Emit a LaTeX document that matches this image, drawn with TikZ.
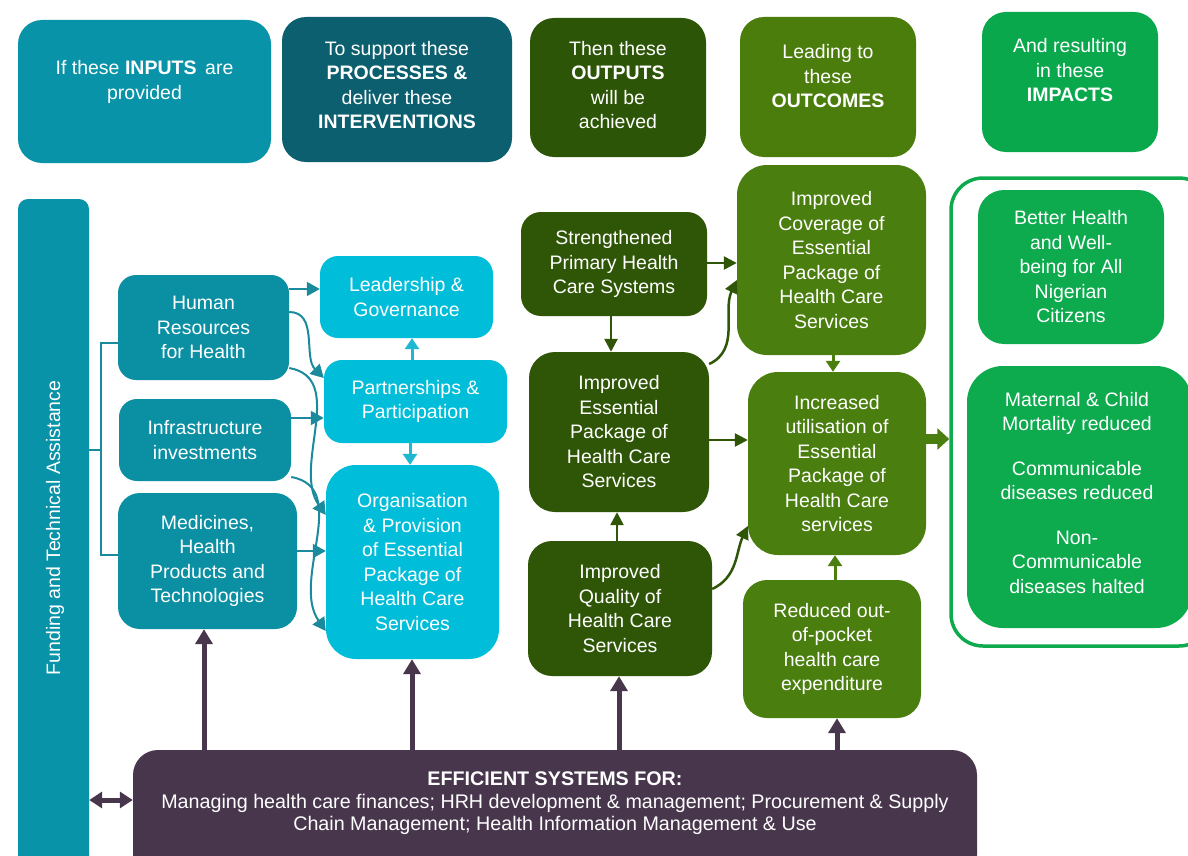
\documentclass[tikz,border=0pt]{standalone}
\usepackage{fontspec}
\setmainfont{Liberation Sans}
\usetikzlibrary{arrows.meta}
\definecolor{cHa}{HTML}{0893A8}
\definecolor{cHb}{HTML}{0B5F6E}
\definecolor{cHc}{HTML}{2D5507}
\definecolor{cHd}{HTML}{4B7D0C}
\definecolor{cHe}{HTML}{0AA84D}
\definecolor{cIn}{HTML}{0A8FA3}
\definecolor{cPr}{HTML}{00BDD9}
\definecolor{cOut}{HTML}{2F5607}
\definecolor{cOc}{HTML}{4A7E0E}
\definecolor{cImp}{HTML}{0DAA4E}
\definecolor{cSys}{HTML}{47364C}
\definecolor{cArT}{HTML}{1B8A9C}
\definecolor{cArC}{HTML}{1EB8D0}
\begin{document}
\begin{tikzpicture}[x=1pt,y=-1pt,
  font=\fontsize{19.5}{24.5}\selectfont,
  box/.style={rectangle, rounded corners=20pt, inner sep=0pt, align=center, text=white},
  txt/.style={inner sep=0pt, align=center, text=white},
  arrT/.style={-{Triangle[length=13pt,width=14pt]}, line width=2pt, draw=cArT},
  arrC/.style={-{Triangle[length=11pt,width=14pt]}, line width=3pt, draw=cArC},
  arrO/.style={-{Triangle[length=13pt,width=13pt]}, line width=2.5pt, draw=cOut},
  arrG/.style={-{Triangle[length=11pt,width=14pt]}, line width=3pt, draw=cOc},
  arrP/.style={-{Triangle[length=15pt,width=17pt]}, line width=5pt, draw=cSys},
  arrPP/.style={{Triangle[length=13pt,width=16pt]}-{Triangle[length=13pt,width=16pt]}, line width=5pt, draw=cSys},
  arrBig/.style={-{Triangle[length=12pt,width=21pt]}, line width=10pt, draw=cOc}
]
\useasboundingbox (0,0) rectangle (1188,856);
\fill[white] (0,0) rectangle (1188,856);

% ---------- header row ----------
\node[box, fill=cHa, rounded corners=24pt, minimum width=253pt, minimum height=143pt] (h1) at (144.5,91.5) {};
\node[txt] (h1t) at (144.5,82) {If these \textbf{INPUTS}\, are\\provided};
\node[box, fill=cHb, rounded corners=24pt, minimum width=230pt, minimum height=145pt] (h2) at (397,89.5) {};
\node[txt] (h2t) at (397,85) {To support these\\\textbf{PROCESSES \&}\\deliver these\\\textbf{INTERVENTIONS}};
\node[box, fill=cHc, rounded corners=24pt, minimum width=176pt, minimum height=139pt] (h3) at (618,87.5) {};
\node[txt] (h3t) at (618,85) {Then these\\\textbf{OUTPUTS}\\will be\\achieved};
\node[box, fill=cHd, rounded corners=24pt, minimum width=176pt, minimum height=140pt] (h4) at (828,87) {};
\node[txt] (h4t) at (828,76.5) {Leading to\\these\\\textbf{OUTCOMES}};
\node[box, fill=cHe, rounded corners=24pt, minimum width=176pt, minimum height=140pt] (h5) at (1070,82) {};
\node[txt] (h5t) at (1070,70.5) {And resulting\\in these\\\textbf{IMPACTS}};

% ---------- funding bar ----------
\node[box, fill=cHa, rounded corners=10pt, minimum width=71pt, minimum height=680pt] (fund) at (53.5,539) {};
\node[txt, rotate=90] (fundt) at (55,528) {Funding and Technical Assistance};

% ---------- inputs ----------
\node[box, fill=cIn, rounded corners=18pt, minimum width=171pt, minimum height=105pt] (hr) at (203.5,327.5) {Human\\Resources\\for Health};
\node[box, fill=cIn, rounded corners=18pt, minimum width=172pt, minimum height=82pt] (inf) at (205,440) {Infrastructure\\investments};
\node[box, fill=cIn, rounded corners=22pt, minimum width=179pt, minimum height=136pt] (med) at (207.5,561) {Medicines,\\Health\\Products and\\Technologies};

% bracket
\draw[cArT, line width=2pt] (hr.west |- 0,343) -- (101,343) -- (101,555) -- (med.west |- 0,555);
\draw[cArT, line width=2pt] (fund.east |- 0,450) -- (101,450);

% ---------- processes ----------
\node[box, fill=cPr, rounded corners=18pt, minimum width=173pt, minimum height=82pt] (lg) at (406.5,297) {Leadership \&\\Governance};
\node[box, fill=cPr, rounded corners=18pt, minimum width=183pt, minimum height=83pt] (pp) at (415.5,401.5) {Partnerships \&\\Participation};
\node[box, fill=cPr, rounded corners=30pt, minimum width=173pt, minimum height=194pt] (op) at (412.5,562) {Organisation\\\& Provision\\of Essential\\Package of\\Health Care\\Services};

% ---------- outputs ----------
\node[box, fill=cOut, rounded corners=20pt, minimum width=186pt, minimum height=104pt] (sp) at (614,264) {Strengthened\\Primary Health\\Care Systems};
\node[box, fill=cOut, rounded corners=26pt, minimum width=180pt, minimum height=160pt] (iep) at (619,432) {Improved\\Essential\\Package of\\Health Care\\Services};
\node[box, fill=cOut, rounded corners=24pt, minimum width=184pt, minimum height=135pt] (iq) at (620,608.5) {Improved\\Quality of\\Health Care\\Services};

% ---------- outcomes ----------
\node[box, fill=cOc, rounded corners=30pt, minimum width=189pt, minimum height=190pt] (cov) at (831.5,260) {Improved\\Coverage of\\Essential\\Package of\\Health Care\\Services};
\node[box, fill=cOc, rounded corners=30pt, minimum width=178pt, minimum height=183pt] (iu) at (837,463.5) {Increased\\utilisation of\\Essential\\Package of\\Health Care\\services};
\node[box, fill=cOc, rounded corners=24pt, minimum width=178pt, minimum height=138pt] (roop) at (832,649) {Reduced out-\\of-pocket\\health care\\expenditure};

% ---------- impacts ----------
\node[rectangle, draw=cImp, fill=white, line width=3.5pt, rounded corners=32pt, minimum width=260pt, minimum height=468pt] (imp) at (1081,412) {};
\node[box, fill=cImp, rounded corners=26pt, minimum width=186pt, minimum height=154pt] (bh) at (1071,267) {Better Health\\and Well-\\being for All\\Nigerian\\Citizens};
\node[box, fill=cImp, rounded corners=36pt, minimum width=225pt, minimum height=262pt] (mc) at (1079.5,497) {};
\node[txt] (mct) at (1077,493) {Maternal \& Child\\Mortality reduced\\[20pt]Communicable\\diseases reduced\\[20pt]Non-\\Communicable\\diseases halted};

% ---------- efficient systems ----------
\node[box, fill=cSys, rounded corners=25pt, minimum width=844pt, minimum height=130pt] (eff) at (555,815) {};
\node[txt, font=\fontsize{19.7}{22.5}\selectfont] (efft) at (555,803.5) {\textbf{EFFICIENT SYSTEMS FOR:}\\Managing health care finances; HRH development \& management; Procurement \& Supply\\Chain Management; Health Information Management \& Use};

% ---------- connectors: inputs -> processes ----------
\draw[arrT] (hr.east |- 0,289) -- (lg.west |- 0,289);
\draw[arrT] (hr.east |- 0,312) to[out=0,in=135] (pp.west |- 0,378);
\draw[arrT] (hr.east |- 0,368) to[out=-10,in=125] (op.west |- 0,515);
\draw[arrT] (inf.east |- 0,418) -- (pp.west |- 0,418);
\draw[arrT] (inf.east |- 0,477) to[out=-10,in=125] (op.west |- 0,631);
\draw[arrT] (med.east |- 0,551) -- (op.west |- 0,551);

% processes internal
\draw[arrC] (pp.north -| 412,0) -- (lg.south -| 412,0);
\draw[arrC] (pp.south -| 410,0) -- (op.north -| 410,0);

% outputs
\draw[arrO] (sp.south -| 611,0) -- (iep.north -| 611,0);
\draw[arrO] (iq.north -| 617,0) -- (iep.south -| 617,0);
\draw[arrO] (sp.east |- 0,263) -- (cov.west |- 0,263);
\draw[arrO] (iep.east |- 0,364) to[out=25,in=245] (cov.west |- 0,280);
\draw[arrO] (iep.east |- 0,440) -- (iu.west |- 0,440);
\draw[arrO] (iq.east |- 0,589) to[out=25,in=245] (iu.west |- 0,526);

% outcomes
\draw[arrG] (cov.south -| 833,0) -- (iu.north -| 833,0);
\draw[arrG] (roop.north -| 835,0) -- (iu.south -| 835,0);
\draw[arrBig] (iu.east |- 0,439) -- (imp.west |- 0,439);

% efficient systems arrows
\draw[arrP] (eff.north -| 204,0) -- (med.south -| 204,0);
\draw[arrP] (eff.north -| 412,0) -- (op.south -| 412,0);
\draw[arrP] (eff.north -| 619,0) -- (iq.south -| 619,0);
\draw[arrP] (eff.north -| 837,0) -- (roop.south -| 837,0);
\draw[arrPP] (fund.east |- 0,800) -- (eff.west |- 0,800);
\end{tikzpicture}
\end{document}
